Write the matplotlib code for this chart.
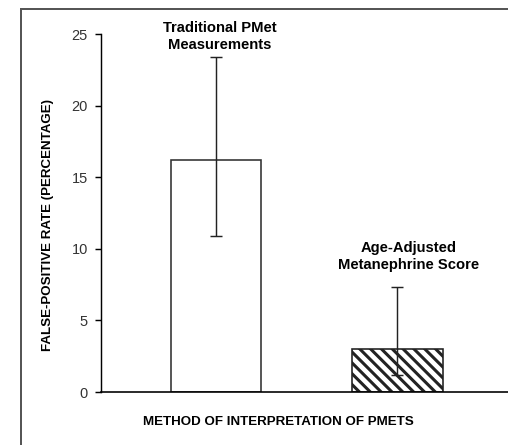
import numpy as np
import matplotlib
matplotlib.use('Agg')
import matplotlib.pyplot as plt
from matplotlib.patches import Rectangle

# values
methods = ['Traditional PMet\nMeasurements', 'Age-Adjusted\nMetanephrine Score']
rates = [16.2, 3.0]
err_low = [10.9, 1.2]
err_high = [23.4, 7.35]
yticks = [0, 5, 10, 15, 20, 25]

plt.rcParams['font.family'] = ['Liberation Sans', 'DejaVu Sans']
plt.rcParams['hatch.linewidth'] = 1.7

dpi = 130
fig = plt.figure(figsize=(508 / dpi, 445 / dpi), dpi=dpi)
ax = fig.add_axes([101 / 508, 53 / 445, 407 / 508, 358 / 445])

x = np.arange(len(rates))
ax.bar(x[0], rates[0], width=0.5, color='white', edgecolor='#333333', linewidth=0.9, zorder=2)
ax.bar(x[1], rates[1], width=0.5, color='white', edgecolor='#222222', linewidth=0.9,
       hatch='\\\\\\\\', zorder=2)

yerr = [np.array(rates) - np.array(err_low), np.array(err_high) - np.array(rates)]
ax.errorbar(x, rates, yerr=yerr, fmt='none', ecolor='#222222', elinewidth=0.8,
            capsize=3.3, capthick=0.8, zorder=3)

# labels above the bars
ax.text(x[0] + 0.02, 24.85, methods[0], ha='center', va='center', fontsize=8.2,
        fontweight='bold', clip_on=False, linespacing=1.25)
ax.text(x[1] + 0.06, 9.45, methods[1], ha='center', va='center', fontsize=8.2,
        fontweight='bold', linespacing=1.25)

ax.set_xlim(-0.634, 1.609)
ax.set_ylim(0, 25)
ax.set_yticks(yticks)
ax.set_xticks([])
ax.tick_params(axis='y', direction='out', length=3.3, width=0.8, labelsize=8,
               labelcolor='#333333', pad=4)
for s in ['top', 'right']:
    ax.spines[s].set_visible(False)
ax.spines['left'].set_linewidth(0.8)
ax.spines['bottom'].set_linewidth(0.9)

fig.text(48 / 508, 1 - 225 / 445, 'FALSE-POSITIVE RATE (PERCENTAGE)', rotation=90,
         ha='center', va='center', fontsize=7.4, fontweight='bold')
fig.text(278 / 508, 1 - 422 / 445, 'METHOD OF INTERPRETATION OF PMETS',
         ha='center', va='center', fontsize=7.4, fontweight='bold')

# frame round the whole figure (cut off at right and bottom)
fig.patches.append(Rectangle((21 / 508, -0.1), 1.2, 1.1 - 9.3 / 445,
                             transform=fig.transFigure, fill=False,
                             edgecolor='#555555', linewidth=1.1))

fig.savefig('out.png', dpi=dpi)
